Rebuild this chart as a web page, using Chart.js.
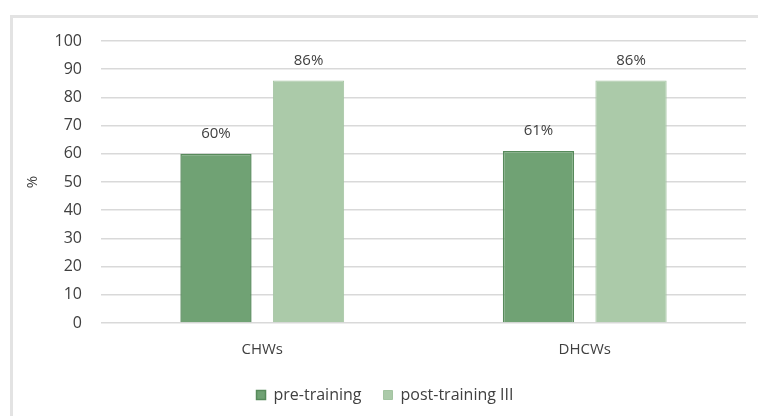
<!DOCTYPE html>
<html>
<head>
<meta charset="utf-8">
<script src="https://cdn.jsdelivr.net/npm/chart.js@4"></script>
<style>
	html, body { margin: 0; padding: 0; background: #fff; }
	#wrap { position: relative; width: 758px; height: 416px; overflow: hidden; }
	#frame {
		position: absolute; left: 10px; top: 15px; width: 800px; height: 450px;
		border-left: 3px solid #e3e3e3; border-top: 3px solid #e3e3e3;
	}
	canvas { position: absolute; left: 0; top: 0; }
</style>
</head>
<body>
<div id="wrap">
	<div id="frame"></div>
	<canvas id="cntx_training" width="758" height="416"></canvas>
</div>
<script>
const groups = ["CHWs", "DHCWs"];
const pre_training = [60, 61];
const post_training = [86, 86];
const series_names = ["pre-training", "post-training III"];
const y_ticks = [0, 10, 20, 30, 40, 50, 60, 70, 80, 90, 100];

const FONT = "'Open Sans', 'Noto Sans', sans-serif";

// prints the value with a % sign above each bar
const barLabels = {
	id: "barLabels",
	afterDatasetsDraw: (chart) => {
		const ctx = chart.ctx;
		ctx.save();
		ctx.font = "15px " + FONT;
		ctx.fillStyle = "#404040";
		ctx.textAlign = "center";
		ctx.textBaseline = "middle";
		chart.data.datasets.forEach((ds, i) => {
			chart.getDatasetMeta(i).data.forEach((bar, j) => {
				ctx.fillText(ds.data[j] + "%", bar.x, bar.y - 20);
			});
		});
		ctx.restore();
	},
};

// nudge the legend a bit to the right, under the plot area
const legendShift = {
	id: "legendShift",
	afterLayout: (chart) => {
		chart.legend.left += 12;
		chart.legend.right += 12;
	},
};

drawChart = (canvas) => {
	const myChart = new Chart(canvas, {
		type: "bar",
		data: {
			labels: groups,
			datasets: [
				{
					label: series_names[0],
					data: pre_training,
					backgroundColor: "#70a274",
					borderColor: "#578a5b",
					borderWidth: 1.5,
				},
				{
					label: series_names[1],
					data: post_training,
					backgroundColor: "#abcaa9",
					borderColor: "#a3c4a1",
					borderWidth: 1,
				},
			],
		},
		options: {
			responsive: false,
			animation: false,
			categoryPercentage: 0.574,
			barPercentage: 0.77,
			layout: { padding: { left: 0, top: 41, right: 12, bottom: 3 } },
			plugins: {
				legend: {
					position: "bottom",
					labels: {
						boxWidth: 9,
						boxHeight: 9,
						padding: 22,
						color: "#404040",
						font: { size: 16, family: FONT },
					},
				},
				tooltip: { enabled: false },
			},
			scales: {
				x: {
					grid: { display: false },
					border: { display: false },
					ticks: {
						color: "#404040",
						padding: 10,
						font: { size: 15, family: FONT },
					},
					afterFit: (scale) => { scale.height = 42; },
				},
				y: {
					min: 0,
					max: 100,
					afterBuildTicks: (scale) => {
						scale.ticks = y_ticks.map((v) => ({ value: v }));
					},
					grid: { color: "#d9d9d9", lineWidth: 1.5, drawTicks: false },
					border: { display: false },
					ticks: {
						color: "#404040",
						padding: 19,
						font: { size: 16, family: FONT },
					},
					title: {
						display: true,
						text: "%",
						color: "#404040",
						font: { size: 15, family: FONT },
						padding: { top: 24, bottom: 0 },
					},
					afterFit: (scale) => { scale.width = 101; },
				},
			},
		},
		plugins: [barLabels, legendShift],
	});
};
drawChart(document.querySelector("#cntx_training"));
</script>
</body>
</html>
